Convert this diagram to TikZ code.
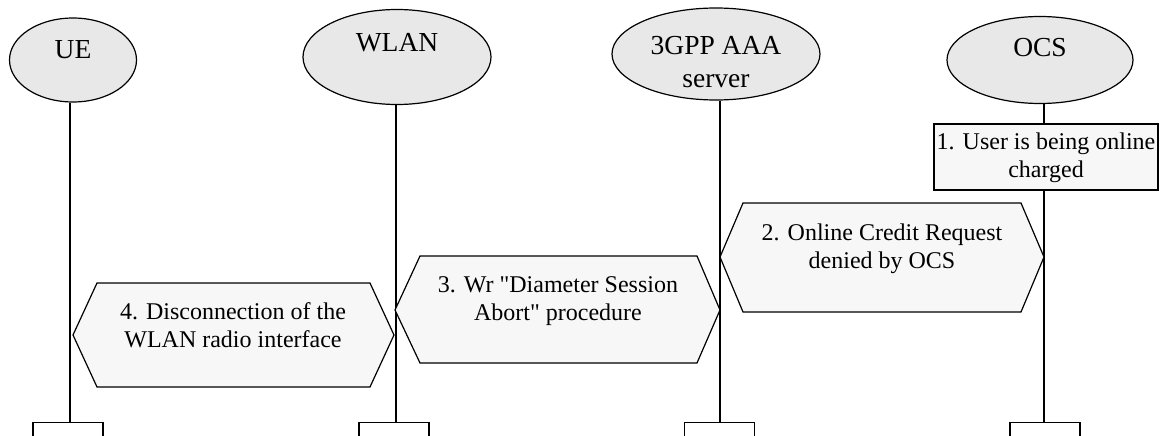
\documentclass[tikz,border=0pt]{standalone}
\usepackage{fontspec}
\setmainfont{Liberation Serif}
\font\plainq="Liberation Serif" at 24pt
\newcommand{\dq}{{\plainq\char34}}
\usetikzlibrary{shapes.geometric}
\definecolor{ellfill}{RGB}{232,232,232}
\definecolor{boxfill}{RGB}{247,247,247}
\tikzset{
  ent/.style={ellipse, draw, fill=ellfill, line width=1.2pt, inner sep=0pt},
  lbl/.style={inner sep=0pt, align=center, anchor=base, font=\fontsize{24}{28}\selectfont},
  entlbl/.style={lbl, font=\fontsize{27.5}{33}\selectfont},
  endbox/.style={rectangle, draw, fill=white, line width=1.2pt, minimum width=70pt, minimum height=40pt, anchor=north, inner sep=0pt},
  life/.style={line width=1.3pt},
  stepbox/.style={rectangle, draw, fill=boxfill, line width=1.2pt, inner sep=0pt},
  hexa/.style={draw, fill=boxfill, line width=1.2pt, line join=miter}
}
\begin{document}
\begin{tikzpicture}[x=1pt,y=-1pt]
\clip (0,0) rectangle (1160,436);
\fill[white] (0,0) rectangle (1160,436);
% entities
\node[ent, minimum width=127pt, minimum height=84pt] (ue) at (73,60) {};
\node[ent, minimum width=188pt, minimum height=95pt] (wlan) at (397,57) {};
\node[ent, minimum width=208pt, minimum height=92pt] (aaa) at (716,54) {};
\node[ent, minimum width=186pt, minimum height=87pt] (ocs) at (1040,60) {};
\node[entlbl] (ue-t) at (73,59) {UE};
\node[entlbl] (wlan-t) at (397,52) {WLAN};
\node[entlbl] (aaa-t) at (716,88) {3GPP AAA\\server};
\node[entlbl] (ocs-t) at (1040,57) {OCS};
% end boxes
\node[endbox] (ue-b) at (68,422) {};
\node[endbox] (wlan-b) at (394,422) {};
\node[endbox] (aaa-b) at (719.5,422) {};
\node[endbox] (ocs-b) at (1045,422) {};
% lifelines
\draw[life] ([xshift=2pt]ue-b.north) -- ([xshift=2pt]ue-b.north |- ue.south);
\draw[life] ([xshift=2pt]wlan-b.north) -- ([xshift=2pt]wlan-b.north |- wlan.south);
\draw[life] ([xshift=0.5pt]aaa-b.north) -- ([xshift=0.5pt]aaa-b.north |- aaa.south);
\draw[life] ([xshift=-1pt]ocs-b.north) -- ([xshift=-1pt]ocs-b.north |- ocs.south);
% step 1
\node[stepbox, minimum width=224pt, minimum height=66pt] (s1) at (1046,157) {};
\node[lbl] (s1-t) at (1046,177) {1. User is being online\\charged};
% step 2
\draw[hexa] (720,257) -- (743,203) -- (1021,203) -- (1044,257) -- (1021,312) -- (743,312) -- cycle;
\node[lbl] (s2-t) at (882,268) {2. Online Credit Request\\denied by OCS};
% step 3
\draw[hexa] (395,310) -- (420,256) -- (697,256) -- (720,310) -- (697,363) -- (420,363) -- cycle;
\node[lbl] (s3-t) at (558,320) {3. Wr \dq Diameter Session\\Abort\dq{} procedure};
% step 4
\draw[hexa] (73,335) -- (97,283) -- (370,283) -- (394,335) -- (370,387) -- (97,387) -- cycle;
\node[lbl] (s4-t) at (233,347) {4. Disconnection of the\\WLAN radio interface};
\end{tikzpicture}
\end{document}
